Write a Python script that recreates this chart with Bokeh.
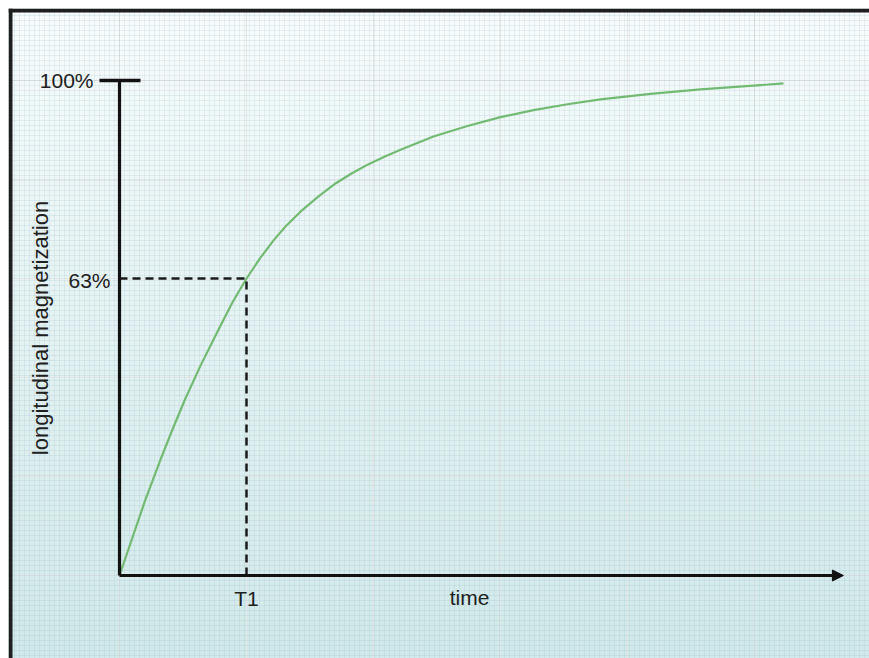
import numpy as np
from bokeh.plotting import figure
from bokeh.models import Range1d, Label, Arrow, NormalHead, Span, SingleIntervalTicker, Grid
from bokeh.embed import file_html
from bokeh.resources import INLINE

# ---- data: time in units of T1, magnetization in % of maximum
time_t1 = [0.0, 0.205, 0.323, 0.417, 0.520, 0.638, 0.780, 0.890, 1.0, 1.110, 1.213, 1.307,
           1.425, 1.567, 1.701, 1.827, 1.961, 2.094, 2.213, 2.472, 2.740, 3.0, 3.260, 3.528,
           3.787, 4.181, 4.575, 5.228]
magnetization = [0.0, 15.4, 23.4, 29.5, 35.8, 42.4, 49.7, 55.2, 60.0, 64.2, 67.7, 70.5,
                 73.5, 76.6, 79.2, 81.2, 83.1, 84.7, 86.0, 88.7, 90.8, 92.6, 94.0, 95.2,
                 96.2, 97.3, 98.2, 99.4]

t1_value = 1.0
t1_level = 60.0            # level of the dashed "63%" marker as drawn
y_tick_values = [t1_level, 100.0]
y_tick_labels = ["63%", "100%"]
x_tick_values = [t1_value]
x_tick_labels = ["T1"]
x_axis_end = 5.70
x_title = "time"
x_title_pos = 2.756
y_title = "longitudinal magnetization"

# ---- layout (pixels)
W, H = 869, 658
MARGIN = 8
FW, FH = W - MARGIN, H - MARGIN
PX_X = 127.0    # pixels per T1
PX_Y = 4.95     # pixels per percent
ORIGIN_X = 119 - MARGIN   # origin within frame
ORIGIN_Y = 575 - MARGIN

x0 = -ORIGIN_X / PX_X
x1 = (FW - ORIGIN_X) / PX_X
y0 = -(FH - ORIGIN_Y) / PX_Y
y1 = ORIGIN_Y / PX_Y

p = figure(width=W, height=H, x_range=Range1d(x0, x1), y_range=Range1d(y0, y1),
           x_axis_location=None, y_axis_location=None,
           min_border_left=MARGIN, min_border_top=MARGIN, min_border_right=0, min_border_bottom=0,
           toolbar_location=None, output_backend="svg")
p.outline_line_color = None
p.background_fill_color = "#eaf4f4"
p.border_fill_color = "white"

# background gradient (white-ish at top to pale cyan at bottom)
n = 200
top = np.array([248, 252, 252], dtype=float)
bot = np.array([209, 233, 234], dtype=float)
img = np.zeros((n, 1), dtype=np.uint32)
view = img.view(dtype=np.uint8).reshape((n, 1, 4))
for i in range(n):
    f = i / (n - 1)          # 0 bottom -> 1 top
    c = bot + (top - bot) * f
    view[i, 0, 0:3] = c.astype(np.uint8)
    view[i, 0, 3] = 255
p.image_rgba(image=[img], x=x0, y=y0, dw=x1 - x0, dh=y1 - y0, level="image")

# fine paper grid
p.add_layout(Grid(dimension=0, ticker=SingleIntervalTicker(interval=5 / PX_X),
                  grid_line_color="#8fb8c0", grid_line_alpha=0.18, grid_line_width=1))
p.add_layout(Grid(dimension=1, ticker=SingleIntervalTicker(interval=5 / PX_Y),
                  grid_line_color="#8fb8c0", grid_line_alpha=0.18, grid_line_width=1))

# frame border (top and left)
p.add_layout(Span(location=y1 - 2 / PX_Y, dimension="width", line_color="#1e1e1e", line_width=4))
p.add_layout(Span(location=x0 + 2 / PX_X, dimension="height", line_color="#1e1e1e", line_width=4))

# curve
p.line(time_t1, magnetization, line_color="#72ba72", line_width=2.2, line_join="round")

# dashed markers at T1
p.line([0, t1_value], [t1_level, t1_level], line_color="#1a1a1a", line_width=2.5, line_dash="8 5")
p.line([t1_value, t1_value], [0, t1_level], line_color="#1a1a1a", line_width=2.5, line_dash="8 5")

# y axis line and 100% tick
p.line([0, 0], [0, 100], line_color="#111111", line_width=3.2)
p.line([-20 / PX_X, 21 / PX_X], [100, 100], line_color="#111111", line_width=3.5)

# x axis arrow
p.add_layout(Arrow(end=NormalHead(size=11, fill_color="#111111", line_color="#111111", line_width=1),
                   x_start=0, y_start=0, x_end=x_axis_end, y_end=0,
                   line_color="#111111", line_width=3))

FONT = "Liberation Sans"
TXT = "#202020"

offsets = {"63%": (-9, -2), "100%": (-26, 0)}
for v, lab in zip(y_tick_values, y_tick_labels):
    dx, dy = offsets[lab]
    p.add_layout(Label(x=0, y=v, x_offset=dx, y_offset=dy, text=lab, text_align="right",
                       text_baseline="middle", text_font=FONT, text_font_size="21px",
                       text_color=TXT))

for v, lab in zip(x_tick_values, x_tick_labels):
    p.add_layout(Label(x=v, y=0, y_offset=-23, text=lab, text_align="center",
                       text_baseline="middle", text_font=FONT, text_font_size="21px",
                       text_color=TXT))

p.add_layout(Label(x=x_title_pos, y=0, y_offset=-22, text=x_title, text_align="center",
                   text_baseline="middle", text_font=FONT, text_font_size="21px",
                   text_color=TXT))

p.add_layout(Label(x=0, y=50, x_offset=-79, text=y_title, angle=np.pi / 2,
                   text_align="center", text_baseline="middle", text_font=FONT,
                   text_font_size="22px", text_color=TXT))

open("out.html", "w").write(file_html(p, INLINE))
